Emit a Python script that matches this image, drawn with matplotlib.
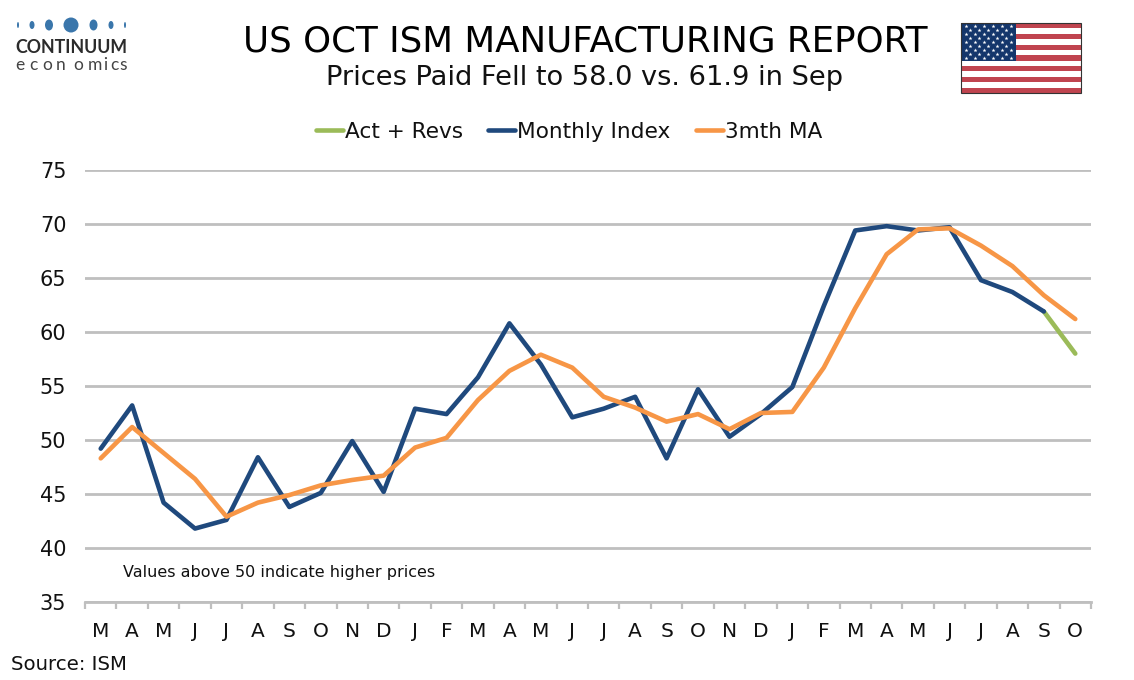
import numpy as np
import matplotlib
matplotlib.use("Agg")
import matplotlib.pyplot as plt
from matplotlib.patches import Ellipse, Rectangle

months = ["M","A","M","J","J","A","S","O","N","D","J","F","M","A","M","J","J","A","S","O","N","D","J","F","M","A","M","J","J","A","S","O"]
monthly_index = [49.2,53.2,44.2,41.8,42.6,48.4,43.8,45.1,49.9,45.2,52.9,52.4,55.8,60.8,57.0,52.1,52.9,54.0,48.3,54.7,50.3,52.4,54.9,62.4,69.4,69.8,69.4,69.7,64.8,63.7,61.9,np.nan]
act_revs = [np.nan]*30 + [61.9,58.0]
ma3 = [48.3,51.2,48.8,46.4,42.9,44.2,44.9,45.8,46.3,46.7,49.3,50.2,53.7,56.4,57.9,56.7,54.0,53.0,51.7,52.4,51.0,52.5,52.6,56.7,62.2,67.2,69.5,69.6,68.0,66.1,63.4,61.2]
y_ticks = [35,40,45,50,55,60,65,70,75]

W,H = 1134,680
plt.rcParams['font.family'] = ['DejaVu Sans']
fig = plt.figure(figsize=(W/100,H/100),dpi=100,facecolor="white")
ax = fig.add_axes([85/W,1-602/H,1006/W,432/H])
x = np.arange(len(months))
BLUE,ORANGE,GREEN,GRID,TXT = "#1F497D","#F79646","#9BBB59","#BFBFBF","#111111"
l1, = ax.plot(x,act_revs,color=GREEN,lw=3.3,solid_capstyle="round",label="Act + Revs",zorder=3)
l2, = ax.plot(x,monthly_index,color=BLUE,lw=3.3,solid_capstyle="round",solid_joinstyle="round",label="Monthly Index",zorder=3)
l3, = ax.plot(x,ma3,color=ORANGE,lw=3.3,solid_capstyle="round",solid_joinstyle="round",label="3mth MA",zorder=4)
ax.set_xlim(-0.5,len(months)-0.5); ax.set_ylim(35,75)
ax.set_yticks(y_ticks)
ax.yaxis.grid(True,color=GRID,lw=2.0,zorder=1); ax.set_axisbelow(True)
for s in ("left","right","top"): ax.spines[s].set_visible(False)
ax.spines["bottom"].set_color(GRID); ax.spines["bottom"].set_linewidth(2.0)
ax.set_xticks(np.arange(len(months)+1)-0.5,minor=False)
ax.set_xticklabels([""]*(len(months)+1))
ax.tick_params(axis="x",length=5,width=1.6,color=GRID,direction="out")
ax.tick_params(axis="y",length=0,labelsize=15,labelcolor=TXT,pad=13.5)
for i,m in enumerate(months):
    ax.annotate(m,(i,0),xycoords=("data","axes fraction"),xytext=(0,-14.5),textcoords="offset points",ha="center",va="top",fontsize=14.5,color=TXT)
fig.text(123/W,1-572/H,"Values above 50 indicate higher prices",fontsize=11.55,color=TXT,va="center")
fig.text(11/W,1-664/H,"Source: ISM",fontsize=14.2,color=TXT,va="center")
fig.text(585/W,1-41/H,"US OCT ISM MANUFACTURING REPORT",fontsize=25.65,ha="center",va="center",color="#000000")
fig.text(584.5/W,1-78/H,"Prices Paid Fell to 58.0 vs. 61.9 in Sep",fontsize=19.6,ha="center",va="center",color=TXT)
fig.legend(handles=[l1,l2,l3],loc="center",bbox_to_anchor=(569/W,1-132/H),ncols=3,frameon=False,fontsize=15.6,
           handlelength=1.25,handletextpad=0.1,columnspacing=1.15,labelcolor=TXT)

# pixel overlay for logo and flag
ov = fig.add_axes([0,0,1,1],zorder=-1); ov.set_xlim(0,W); ov.set_ylim(H,0); ov.axis("off")
LOGO="#3A76AB"
for cx,w,h in [(18,2,6),(32,5,8),(49,8,11),(71,15,15),(93.5,8,11),(111,5,8),(125,2,6)]:
    ov.add_patch(Ellipse((cx,25),w,h,color=LOGO,lw=0))
ov.text(71.5,47.5,"CONTINUUM",family="Lato",weight="bold",fontsize=12.8,ha="center",va="center",color="#2b2b2b")
for ch,px in zip("economics",[20,33,47,61,78,95,105,114,123]):
    ov.text(px,65,ch,family="Lato",fontsize=12.5,ha="center",va="center",color="#444444")
# flag
fx0,fx1,fy0,fy1 = 961,1081,23,93
sh=(fy1-fy0)/13
ov.add_patch(Rectangle((fx0,fy0),fx1-fx0,fy1-fy0,fc="white",ec="none"))
for i in range(0,13,2):
    ov.add_patch(Rectangle((fx0,fy0+i*sh),fx1-fx0,sh,fc="#C0444F",ec="none"))
ov.add_patch(Rectangle((fx0,fy0),55,7*sh,fc="#14366B",ec="none",zorder=3))
ov.add_patch(Rectangle((fx0,fy0),fx1-fx0,fy1-fy0,fc="none",ec="#333333",lw=0.8,zorder=4))
sx,sy=[],[]
for r in range(9):
    n = 6 if r%2==0 else 5
    for c in range(n):
        sx.append(fx0+4.5+c*9+(0 if r%2==0 else 4.5)); sy.append(fy0+3.2+r*4.0)
ov.scatter(sx,sy,marker="*",s=9,c="white",lw=0,zorder=5)
fig.savefig("out.png",dpi=100,facecolor="white")
